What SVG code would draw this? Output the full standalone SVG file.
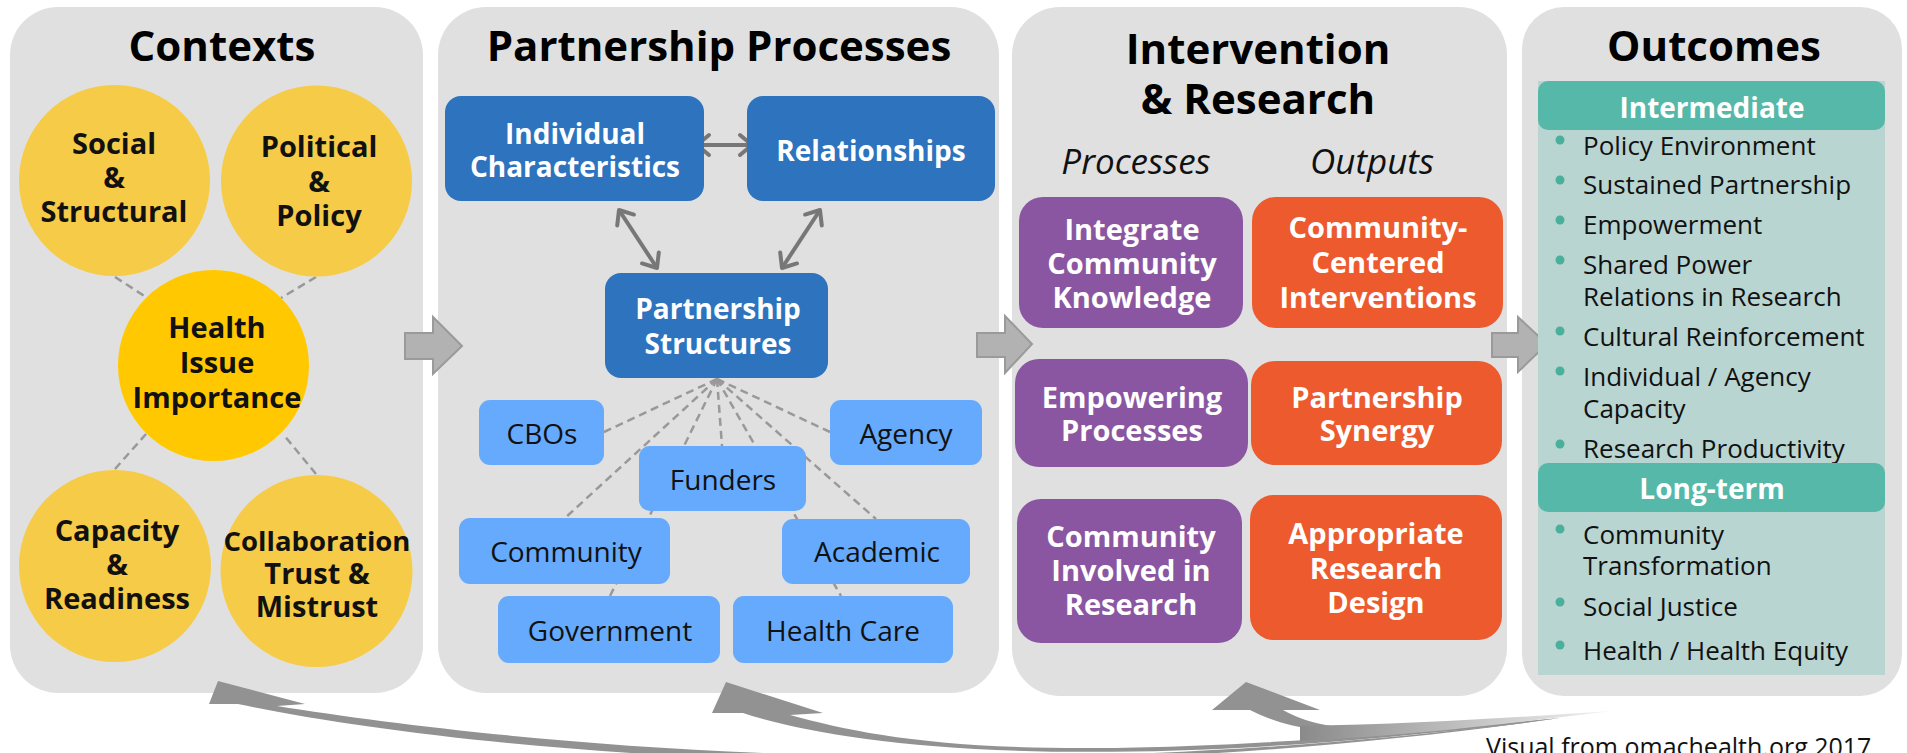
<svg xmlns="http://www.w3.org/2000/svg" width="1907" height="753" viewBox="0 0 1907 753">
<style>
.panel{fill:#e0e0e0}
.ttl{font-family:"Open Sans","Liberation Sans",sans-serif;font-weight:700;font-size:42px;fill:#000;text-anchor:middle}
.ctx{fill:#f6cb47}
.ctxc{fill:#ffc800}
.ct{font-family:"Open Sans","Liberation Sans",sans-serif;font-weight:700;font-size:29px;fill:#111;text-anchor:middle}
.db{fill:#2d73be}
.lb{fill:#65aafc}
.wt{font-family:"Open Sans","Liberation Sans",sans-serif;font-weight:700;font-size:28px;fill:#fff;text-anchor:middle}
.bt{font-family:"Open Sans","Liberation Sans",sans-serif;font-weight:400;font-size:28px;fill:#111;text-anchor:middle}
.pu{fill:#8b56a1}
.or{fill:#ec5a2e}
.it{font-family:"Open Sans","Liberation Sans",sans-serif;font-style:italic;font-size:35px;fill:#111;text-anchor:middle}
.ot{font-family:"Open Sans","Liberation Sans",sans-serif;font-weight:400;font-size:26px;fill:#111}
.dot{fill:#4ab09c}
.hd{fill:#55b8a8}
.dash{stroke:#999;stroke-width:2.5;stroke-dasharray:8 5;fill:none}
.blk{fill:#b2b2b2;stroke:#9a9a9a;stroke-width:2}
.dbl{stroke:#777;stroke-width:4;fill:none;marker-start:url(#chev);marker-end:url(#chev)}
.sw{fill:#929292}
</style>
<defs>
<marker id="chev" markerUnits="userSpaceOnUse" markerWidth="26" markerHeight="26" refX="15" refY="13" viewBox="0 0 26 26" orient="auto-start-reverse">
<path d="M3,3 L15,13 L3,23" fill="none" stroke="#777" stroke-width="4" stroke-linecap="round" stroke-linejoin="round"/>
</marker>
<linearGradient id="swg" x1="1300" y1="0" x2="1612" y2="0" gradientUnits="userSpaceOnUse">
<stop offset="0" stop-color="#8a8a8a"/>
<stop offset="1" stop-color="#f2f2f2"/>
</linearGradient>
</defs>

<!-- Panels -->
<g id="panel-contexts"><rect class="panel" x="10" y="7" width="413" height="686" rx="48"/><text class="ttl" x="222" y="61">Contexts</text></g>
<g id="panel-partnership"><rect class="panel" x="438" y="7" width="561" height="686" rx="48"/><text class="ttl" x="719" y="61">Partnership Processes</text></g>
<g id="panel-intervention"><rect class="panel" x="1012" y="7" width="495" height="689" rx="48"/><text class="ttl" x="1258" y="64">Intervention</text><text class="ttl" x="1258" y="114">&amp; Research</text></g>
<g id="panel-outcomes"><rect class="panel" x="1522" y="7" width="380" height="689" rx="42"/><text class="ttl" x="1714" y="61">Outcomes</text></g>

<!-- Connectors -->
<g id="connectors">
<line class="dash" x1="115" y1="277" x2="146" y2="297"/>
<line class="dash" x1="316" y1="277" x2="281" y2="298"/>
<line class="dash" x1="115" y1="469" x2="146" y2="434"/>
<line class="dash" x1="316" y1="474" x2="283" y2="434"/>
<line class="dash" x1="717" y1="379" x2="604" y2="432"/>
<line class="dash" x1="717" y1="379" x2="830" y2="432"/>
<line class="dash" x1="717" y1="379" x2="565" y2="518"/>
<line class="dash" x1="717" y1="379" x2="610" y2="596"/>
<line class="dash" x1="717" y1="379" x2="722" y2="446"/>
<line class="dash" x1="717" y1="379" x2="841" y2="596"/>
<line class="dash" x1="717" y1="379" x2="876" y2="519"/>
<line class="dbl" x1="697" y1="145" x2="752" y2="145"/>
<line class="dbl" x1="619" y1="210" x2="657" y2="268"/>
<line class="dbl" x1="820" y1="210" x2="782" y2="268"/>
<polygon class="blk" points="405,333 433,333 433,317 462,346 433,374 433,359 405,359"/>
<polygon class="blk" points="977,333 1005,333 1005,316 1032,344 1005,373 1005,357 977,357"/>
<polygon class="blk" points="1492,333 1518,333 1518,317 1547,344 1518,372 1518,357 1492,357"/>
<path class="sw" d="M218,681 L305,704 L277,706 C520,745 1000,792 1560,718 C1000,798 480,755 238,704 L209,704 Z"/>
<path class="sw" d="M726,682 L823,713 L790,715 C900,745 1050,770 1560,718 C1100,777 850,748 743,713 L712,713 Z"/>
<path class="sw" d="M1246,682 L1320,710 L1283,710 C1320,730 1360,737 1560,718 C1380,744 1300,736 1250,710 L1212,710 Z"/>
<path fill="url(#swg)" d="M1300,726 C1420,724 1520,717 1612,711 C1520,722 1420,735 1300,741 Z"/>
</g>

<!-- Contexts nodes -->
<g id="n-social"><circle class="ctx" cx="114.5" cy="180.5" r="95.5"/><text class="ct" x="114" y="154">Social</text><text class="ct" x="114" y="188">&amp;</text><text class="ct" x="114" y="222">Structural</text></g>
<g id="n-political"><circle class="ctx" cx="316.5" cy="181" r="95.5"/><text class="ct" x="319" y="157">Political</text><text class="ct" x="319" y="192">&amp;</text><text class="ct" x="319" y="226">Policy</text></g>
<g id="n-health"><circle class="ctxc" cx="213.5" cy="365.5" r="95.5"/><text class="ct" x="217" y="338">Health</text><text class="ct" x="217" y="373">Issue</text><text class="ct" x="217" y="408">Importance</text></g>
<g id="n-capacity"><circle class="ctx" cx="115" cy="566" r="96"/><text class="ct" x="117" y="541">Capacity</text><text class="ct" x="117" y="575">&amp;</text><text class="ct" x="117" y="609">Readiness</text></g>
<g id="n-collab"><circle class="ctx" cx="316.5" cy="571" r="96"/><text class="ct" x="317" y="551" style="font-size:27.5px">Collaboration</text><text class="ct" x="317" y="584">Trust &amp;</text><text class="ct" x="317" y="617">Mistrust</text></g>

<!-- Partnership nodes -->
<g id="n-individual"><rect class="db" x="445" y="96" width="259" height="105" rx="16"/><text class="wt" x="575" y="144">Individual</text><text class="wt" x="575" y="177">Characteristics</text></g>
<g id="n-relationships"><rect class="db" x="747" y="96" width="248" height="105" rx="16"/><text class="wt" x="871" y="161">Relationships</text></g>
<g id="n-structures"><rect class="db" x="605" y="273" width="223" height="105" rx="16"/><text class="wt" x="718" y="319">Partnership</text><text class="wt" x="718" y="354">Structures</text></g>
<g id="n-cbos"><rect class="lb" x="479" y="400" width="125" height="65" rx="11"/><text class="bt" x="542" y="444">CBOs</text></g>
<g id="n-agency"><rect class="lb" x="830" y="400" width="152" height="65" rx="11"/><text class="bt" x="906" y="444">Agency</text></g>
<g id="n-funders"><rect class="lb" x="639" y="446" width="167" height="65" rx="11"/><text class="bt" x="723" y="490">Funders</text></g>
<g id="n-community"><rect class="lb" x="459" y="518" width="211" height="66" rx="11"/><text class="bt" x="566" y="562">Community</text></g>
<g id="n-academic"><rect class="lb" x="782" y="519" width="188" height="65" rx="11"/><text class="bt" x="877" y="562">Academic</text></g>
<g id="n-government"><rect class="lb" x="498" y="596" width="222" height="67" rx="11"/><text class="bt" x="610" y="641">Government</text></g>
<g id="n-healthcare"><rect class="lb" x="733" y="596" width="220" height="67" rx="11"/><text class="bt" x="843" y="641">Health Care</text></g>

<!-- Intervention nodes -->
<g id="h-processes"><text class="it" x="1136" y="174">Processes</text></g>
<g id="h-outputs"><text class="it" x="1372" y="174">Outputs</text></g>
<g id="n-integrate"><rect class="pu" x="1019" y="197" width="224" height="131" rx="24"/><text class="ct" style="fill:#fff" x="1132" y="240">Integrate</text><text class="ct" style="fill:#fff" x="1132" y="274">Community</text><text class="ct" style="fill:#fff" x="1132" y="308">Knowledge</text></g>
<g id="n-empowering"><rect class="pu" x="1015" y="359" width="233" height="108" rx="24"/><text class="ct" style="fill:#fff" x="1132" y="408">Empowering</text><text class="ct" style="fill:#fff" x="1132" y="441">Processes</text></g>
<g id="n-involved"><rect class="pu" x="1017" y="499" width="225" height="144" rx="24"/><text class="ct" style="fill:#fff" x="1131" y="547">Community</text><text class="ct" style="fill:#fff" x="1131" y="581">Involved in</text><text class="ct" style="fill:#fff" x="1131" y="615">Research</text></g>
<g id="n-ccinterventions"><rect class="or" x="1252" y="197" width="251" height="131" rx="24"/><text class="ct" style="fill:#fff" x="1378" y="238">Community-</text><text class="ct" style="fill:#fff" x="1378" y="273">Centered</text><text class="ct" style="fill:#fff" x="1378" y="308">Interventions</text></g>
<g id="n-synergy"><rect class="or" x="1251" y="361" width="251" height="104" rx="24"/><text class="ct" style="fill:#fff" x="1377" y="408">Partnership</text><text class="ct" style="fill:#fff" x="1377" y="441">Synergy</text></g>
<g id="n-design"><rect class="or" x="1250" y="495" width="252" height="145" rx="24"/><text class="ct" style="fill:#fff" x="1376" y="544">Appropriate</text><text class="ct" style="fill:#fff" x="1376" y="579">Research</text><text class="ct" style="fill:#fff" x="1376" y="613">Design</text></g>

<!-- Outcomes -->
<g id="n-outcomes-list">
<rect x="1538" y="81" width="347" height="594" fill="#b9d5d1"/>
<circle class="dot" cx="1560" cy="140" r="4.5"/><text class="ot" x="1583" y="155">Policy Environment</text>
<circle class="dot" cx="1560" cy="180" r="4.5"/><text class="ot" x="1583" y="194">Sustained Partnership</text>
<circle class="dot" cx="1560" cy="220" r="4.5"/><text class="ot" x="1583" y="234">Empowerment</text>
<circle class="dot" cx="1560" cy="260" r="4.5"/><text class="ot" x="1583" y="274">Shared Power</text><text class="ot" x="1583" y="306">Relations in Research</text>
<circle class="dot" cx="1560" cy="331" r="4.5"/><text class="ot" x="1583" y="346">Cultural Reinforcement</text>
<circle class="dot" cx="1560" cy="371" r="4.5"/><text class="ot" x="1583" y="386">Individual / Agency</text><text class="ot" x="1583" y="418">Capacity</text>
<circle class="dot" cx="1560" cy="444" r="4.5"/><text class="ot" x="1583" y="458">Research Productivity</text>
<circle class="dot" cx="1560" cy="529" r="4.5"/><text class="ot" x="1583" y="544">Community</text><text class="ot" x="1583" y="575">Transformation</text>
<circle class="dot" cx="1560" cy="602" r="4.5"/><text class="ot" x="1583" y="616">Social Justice</text>
<circle class="dot" cx="1560" cy="645" r="4.5"/><text class="ot" x="1583" y="660">Health / Health Equity</text>
</g>
<g id="n-intermediate"><rect class="hd" x="1538" y="81" width="347" height="49" rx="10"/><text class="wt" x="1712" y="118">Intermediate</text></g>
<g id="n-longterm"><rect class="hd" x="1538" y="463" width="347" height="49" rx="10"/><text class="wt" x="1712" y="499">Long-term</text></g>

<text x="1486" y="756" style="font-family:'Open Sans','Liberation Sans',sans-serif;font-size:25px;fill:#111">Visual from omachealth.org 2017</text>
</svg>
